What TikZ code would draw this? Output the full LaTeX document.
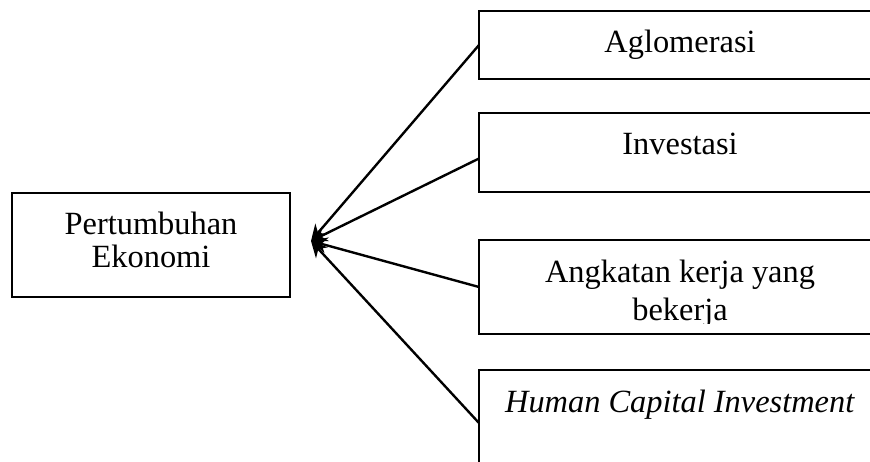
\documentclass[tikz,border=0pt]{standalone}
\usepackage{fontspec}
\setmainfont{Liberation Serif}
\usetikzlibrary{arrows.meta,positioning,calc}

\begin{document}
\begin{tikzpicture}[x=0.5pt,y=-0.5pt,font=\fontsize{16.2}{16}\selectfont,
 box/.style={draw,line width=1.2pt,minimum width=201pt,anchor=north west,inner sep=0pt,outer sep=0pt},
 txt/.style={anchor=base,inner sep=0pt,align=center},
 arrow/.style={-{Stealth[length=8pt,width=8pt]},line width=1.2pt}]
\useasboundingbox (0,0) rectangle (870,461);
\clip (0,0) rectangle (870,461);
% left box
\node[box,minimum width=139pt,minimum height=52pt] (growth) at (12,193) {};
\node[txt] (growthT) at ($(growth.north)+(0,74)$) {Pertumbuhan\\[0.5pt]Ekonomi};
\coordinate (hub) at (311,241);
% right boxes
\node[box,minimum height=34pt] (agl) at (479,11) {};
\node[box,minimum height=39.5pt,below=17pt of agl] (inv) {};
\node[box,minimum height=47pt,below=24pt of inv] (akk) {};
\node[box,minimum height=53pt,below=18pt of akk] (hci) {};
\node[txt] (aglT) at ($(agl.north)+(0,41)$) {Aglomerasi};
\node[txt] (invT) at ($(inv.north)+(0,41)$) {Investasi};
\begin{scope}
 \clip (akk.north west) rectangle ($(akk.south east)+(0,-11)$);
 \node[txt] (akkT) at ($(akk.north)+(0,80)$) {Angkatan kerja yang\\[3pt]bekerja};
\end{scope}
\node[txt] (hciT) at ($(hci.north)+(0,42)$) {\textit{Human Capital Investment}};
\draw[arrow] (agl.west) -- (hub);
\draw[arrow] ([yshift=-3pt]inv.west) -- (hub);
\draw[arrow] (akk.west) -- (hub);
\draw[arrow] (hci.west) -- (hub);
\end{tikzpicture}
\end{document}
